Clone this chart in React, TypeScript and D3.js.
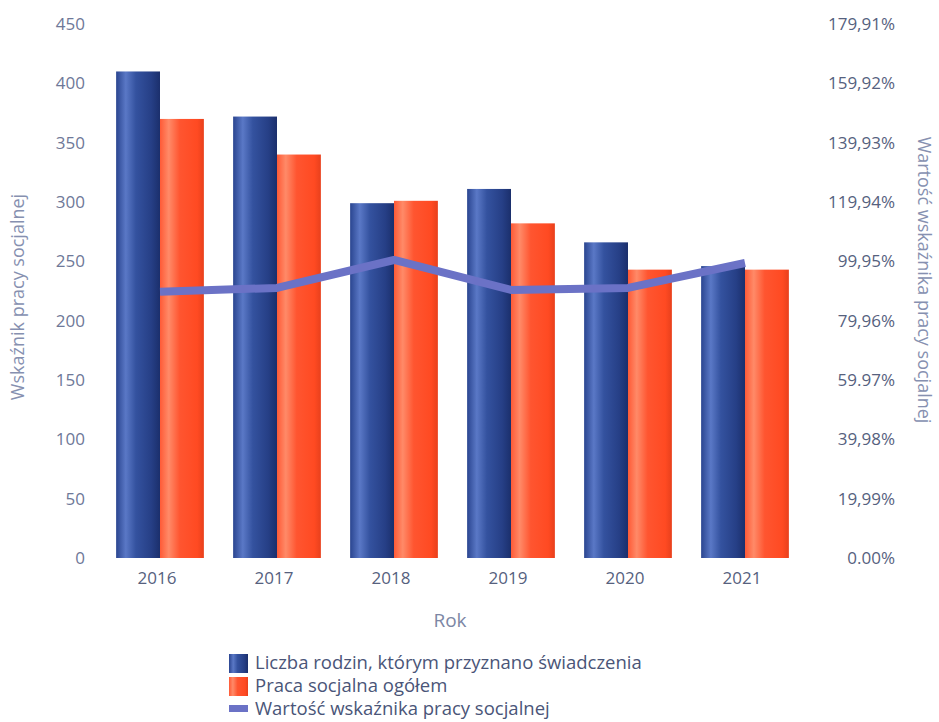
import React from "react";
import * as d3 from "d3";

const years = ["2016", "2017", "2018", "2019", "2020", "2021"];
const rodziny = [410, 372, 299, 311, 266, 246];
const pracaSocjalna = [370, 340, 301, 282, 243, 243];
const wskaznik = [89.7, 91.0, 100.4, 90.3, 91.0, 99.4];
const leftTicks = [0, 50, 100, 150, 200, 250, 300, 350, 400, 450];
const rightTickValues = [0, 19.99, 39.98, 59.97, 79.96, 99.95, 119.94, 139.93, 159.92, 179.91];
const rightTickLabels = ["0.00%", "19,99%", "39,98%", "59.97%", "79,96%", "99,95%", "119,94%", "139,93%", "159,92%", "179,91%"];
const legendLabels = [
  "Liczba rodzin, którym przyznano świadczenia",
  "Praca socjalna ogółem",
  "Wartość wskaźnika pracy socjalnej",
];

const W = 939;
const H = 722;
const FONT = "'Open Sans', 'DejaVu Sans', sans-serif";

export default function App() {
  const x = d3.scaleBand<string>().domain(years).range([101.5, 803.5]).paddingInner(0.25).paddingOuter(0.125);
  const y = d3.scaleLinear().domain([0, 450]).range([558, 24]);
  const y2 = d3.scaleLinear().domain([0, 179.91]).range([558, 24]);
  const bw = x.bandwidth() / 2;
  const line = d3
    .line<number>()
    .x((_, i) => (x(years[i]) as number) + x.bandwidth() / 2)
    .y((d) => y2(d));

  return (
    <svg width={W} height={H} style={{ position: "absolute", left: 0, top: 0, background: "#fff" }}>
      <defs>
        <linearGradient id="gBlue" x1="0" x2="1" y1="0" y2="0">
          <stop offset="0" stopColor="#2a4590" />
          <stop offset="0.22" stopColor="#5a78c6" />
          <stop offset="0.45" stopColor="#34529f" />
          <stop offset="0.8" stopColor="#263f86" />
          <stop offset="1" stopColor="#1b2f6c" />
        </linearGradient>
        <linearGradient id="gOrange" x1="0" x2="1" y1="0" y2="0">
          <stop offset="0" stopColor="#ff5a36" />
          <stop offset="0.2" stopColor="#ff8a68" />
          <stop offset="0.45" stopColor="#ff5530" />
          <stop offset="0.85" stopColor="#ff4a22" />
          <stop offset="1" stopColor="#e8401c" />
        </linearGradient>
      </defs>

      {years.map((yr, i) => {
        const x0 = x(yr) as number;
        return (
          <g key={yr}>
            <rect x={x0} y={y(rodziny[i])} width={bw} height={y(0) - y(rodziny[i])} fill="url(#gBlue)" />
            <rect x={x0 + bw} y={y(pracaSocjalna[i])} width={bw} height={y(0) - y(pracaSocjalna[i])} fill="url(#gOrange)" />
          </g>
        );
      })}

      <path d={line(wskaznik) || ""} fill="none" stroke="#6b72c6" strokeWidth={8} strokeLinejoin="round" />

      {leftTicks.map((t) => (
        <text key={t} x={85} y={y(t)} dy="0.35em" textAnchor="end" fontFamily={FONT} fontSize={17} fill="#6e7898">
          {t}
        </text>
      ))}
      {rightTickValues.map((t, i) => (
        <text key={t} x={895} y={y2(t)} dy="0.35em" textAnchor="end" fontFamily={FONT} fontSize={17} fill="#56617e">
          {rightTickLabels[i]}
        </text>
      ))}
      {years.map((yr) => (
        <text key={yr} x={(x(yr) as number) + x.bandwidth() / 2 - 3} y={578} dy="0.35em" textAnchor="middle" fontFamily={FONT} fontSize={17} fill="#56617e">
          {yr}
        </text>
      ))}
      <text x={450} y={620} dy="0.35em" textAnchor="middle" fontFamily={FONT} fontSize={19} fill="#7c86a4">
        Rok
      </text>

      <text transform="translate(18,297) rotate(-90)" textAnchor="middle" dy="0.35em" fontFamily={FONT} fontSize={18} fill="#8690b0">
        Wskaźnik pracy socjalnej
      </text>
      <text transform="translate(924,280) rotate(90)" textAnchor="middle" dy="0.35em" fontFamily={FONT} fontSize={18} fill="#8690b0">
        Wartość wskaźnika pracy socjalnej
      </text>

      <g>
        <rect x={229} y={654} width={19} height={19} fill="url(#gBlue)" />
        <rect x={229} y={677} width={19} height={19} fill="url(#gOrange)" />
        <rect x={229} y={705} width={19} height={7} fill="#6b72c6" />
        {legendLabels.map((l, i) => (
          <text key={l} x={255} y={663 + i * 23} dy="0.35em" fontFamily={FONT} fontSize={18.5} fill="#4a5578">
            {l}
          </text>
        ))}
      </g>
    </svg>
  );
}
